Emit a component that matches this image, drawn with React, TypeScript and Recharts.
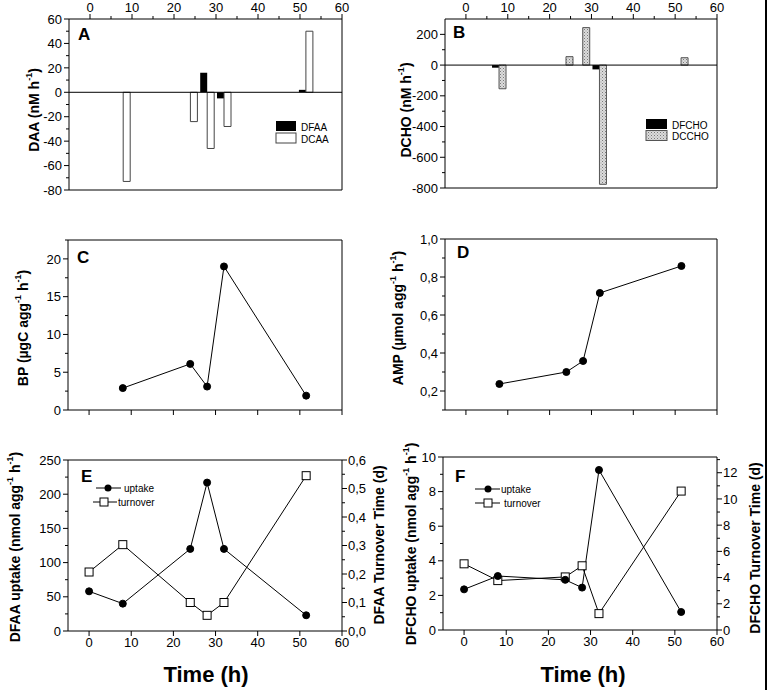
import React from "react";
import { Bar, ComposedChart, Line, ReferenceLine, XAxis, YAxis } from "recharts";

// sampling times (h)
const barTimes = [8, 24, 28, 32, 51.5];
const seriesTimes = [0, 8, 24, 28, 32, 51.5];

// panel A / B: rates (nM h-1)
const dfaaRate = [0, 0, 16, -5, 2];
const dcaaRate = [-73, -24, -46, -28, 50];
const dfchoRate = [-17, 0, 0, -28, 0];
const dcchoRate = [-154, 55, 244, -776, 48];

// panel C / D
const bpValues = [2.9, 6.1, 3.1, 19.0, 1.9];
const ampValues = [0.237, 0.3, 0.358, 0.716, 0.858];

// panel E / F
const dfaaUptake = [58, 40, 120, 217, 120, 23];
const dfaaTurnover = [0.207, 0.303, 0.1, 0.055, 0.1, 0.545];
const dfchoUptake = [2.35, 3.12, 2.9, 2.45, 9.25, 1.04];
const dfchoTurnover = [5.05, 3.77, 4.05, 4.9, 1.25, 10.6];

// ticks
const timeMajor = [0, 10, 20, 30, 40, 50, 60];
const timeWithMinor = [0, 5, 10, 15, 20, 25, 30, 35, 40, 45, 50, 55, 60];
const daaTicks = [-80, -70, -60, -50, -40, -30, -20, -10, 0, 10, 20, 30, 40, 50, 60];
const daaMajor = [-80, -60, -40, -20, 0, 20, 40, 60];
const dchoTicks = [-800, -700, -600, -500, -400, -300, -200, -100, 0, 100, 200];
const dchoMajor = [-800, -600, -400, -200, 0, 200];
const bpTicks = [0, 2.5, 5, 7.5, 10, 12.5, 15, 17.5, 20, 22.5];
const bpMajor = [0, 5, 10, 15, 20];
const ampTicks = [0.1, 0.2, 0.3, 0.4, 0.5, 0.6, 0.7, 0.8, 0.9, 1.0];
const ampMajor = [0.2, 0.4, 0.6, 0.8, 1.0];
const eLeftTicks = [0, 25, 50, 75, 100, 125, 150, 175, 200, 225, 250];
const eLeftMajor = [0, 50, 100, 150, 200, 250];
const eRightTicks = [0, 0.05, 0.1, 0.15, 0.2, 0.25, 0.3, 0.35, 0.4, 0.45, 0.5, 0.55, 0.6];
const eRightMajor = [0, 0.1, 0.2, 0.3, 0.4, 0.5, 0.6];
const fLeftTicks = [0, 1, 2, 3, 4, 5, 6, 7, 8, 9, 10];
const fLeftMajor = [0, 2, 4, 6, 8, 10];
const fRightTicks = [0, 1, 2, 3, 4, 5, 6, 7, 8, 9, 10, 11, 12, 13];
const fRightMajor = [0, 2, 4, 6, 8, 10, 12];

const barRows = barTimes.map((t, i) => ({
  t,
  dfaa: dfaaRate[i],
  dcaa: dcaaRate[i],
  dfcho: dfchoRate[i],
  dccho: dcchoRate[i],
}));
const cdRows = barTimes.map((t, i) => ({ t, bp: bpValues[i], amp: ampValues[i] }));
const efRows = seriesTimes.map((t, i) => ({
  t,
  aUp: dfaaUptake[i],
  aTurn: dfaaTurnover[i],
  cUp: dfchoUptake[i],
  cTurn: dfchoTurnover[i],
}));

const FONT = "'Liberation Sans', Arial, Helvetica, sans-serif";
const PAD = 50;
const comma = (v: number) => v.toFixed(1).replace(".", ",");
const plain = (v: number) => String(v);

type Side = "left" | "right" | "top" | "bottom";

function makeTick(side: Side, majors: number[], fmt: ((v: number) => string) | null) {
  return (props: any) => {
    const { x, y, payload } = props;
    const v = Number(payload.value);
    const major = majors.some((m) => Math.abs(m - v) < 1e-6);
    const len = major ? 5 : 3;
    const label = major && fmt ? fmt(v) : null;
    const tf = { fontFamily: FONT, fontSize: 13, fill: "#000" };
    if (side === "left")
      return (
        <g>
          <line x1={x - len} y1={y} x2={x} y2={y} stroke="#000" />
          {label && <text x={x - 7} y={y} dy="0.36em" textAnchor="end" {...tf}>{label}</text>}
        </g>
      );
    if (side === "right")
      return (
        <g>
          <line x1={x} y1={y} x2={x + len} y2={y} stroke="#000" />
          {label && <text x={x + 6} y={y} dy="0.36em" textAnchor="start" {...tf}>{label}</text>}
        </g>
      );
    if (side === "top")
      return (
        <g>
          <line x1={x} y1={y - len} x2={x} y2={y} stroke="#000" />
          {label && <text x={x} y={y - 7} textAnchor="middle" {...tf}>{label}</text>}
        </g>
      );
    return (
      <g>
        <line x1={x} y1={y} x2={x} y2={y + len} stroke="#000" />
        {label && <text x={x} y={y + 16} textAnchor="middle" {...tf}>{label}</text>}
      </g>
    );
  };
}

type Rect = { x: number; y: number; w: number; h: number };
type AxisSpec = { ticks?: number[]; majors?: number[]; fmt?: ((v: number) => string) | null };

function axisProps(side: Side, spec?: AxisSpec) {
  const base = { stroke: "#000", tickLine: false, tickSize: 0, tickMargin: 0, interval: 0 as const };
  if (!spec || !spec.ticks) return { ...base, tick: false };
  return { ...base, ticks: spec.ticks, tick: makeTick(side, spec.majors || spec.ticks, spec.fmt ?? null) };
}

function Panel({
  rect,
  data,
  yDomain,
  yRightDomain,
  top,
  bottom,
  left,
  right,
  children,
}: {
  rect: Rect;
  data: any[];
  yDomain: [number, number];
  yRightDomain?: [number, number];
  top?: AxisSpec;
  bottom?: AxisSpec;
  left: AxisSpec;
  right: AxisSpec;
  children: React.ReactNode;
}) {
  return (
    <div style={{ position: "absolute", left: rect.x - PAD, top: rect.y - PAD }}>
      <ComposedChart
        width={rect.w + 2 * PAD}
        height={rect.h + 2 * PAD}
        data={data}
        margin={{ top: 0, right: 0, bottom: 0, left: 0 }}
        barGap={0}
      >
        <XAxis xAxisId="t" orientation="top" type="number" dataKey="t" domain={[-5, 60]} height={PAD} {...axisProps("top", top)} />
        <XAxis xAxisId="b" orientation="bottom" type="number" dataKey="t" domain={[-5, 60]} height={PAD} {...axisProps("bottom", bottom)} />
        <YAxis yAxisId="l" orientation="left" type="number" domain={yDomain} width={PAD} {...axisProps("left", left)} />
        <YAxis yAxisId="r" orientation="right" type="number" domain={yRightDomain || yDomain} width={PAD} {...axisProps("right", right)} />
        {children}
      </ComposedChart>
    </div>
  );
}

const Square = (props: any) => {
  const { cx, cy } = props;
  if (cx == null || cy == null) return <g />;
  return <rect x={cx - 4} y={cy - 4} width={8} height={8} fill="#fff" stroke="#000" strokeWidth={1} />;
};

const dotStyle = { r: 3.5, fill: "#000", stroke: "#000", strokeWidth: 1 };

function YTitle({ x, y, parts }: { x: number; y: number; parts: (string | { sup: string })[] }) {
  const nodes: React.ReactNode[] = [];
  parts.forEach((p, i) => {
    if (typeof p === "string") {
      nodes.push(<tspan key={i} dy={i > 0 && typeof parts[i - 1] !== "string" ? 5 : 0}>{p}</tspan>);
    } else {
      nodes.push(<tspan key={i} dy={-5} fontSize={9}>{p.sup}</tspan>);
    }
  });
  return (
    <text
      transform={`translate(${x},${y}) rotate(-90)`}
      textAnchor="middle"
      dominantBaseline="central"
      fontFamily={FONT}
      fontWeight="bold"
      fontSize={14}
      fill="#000"
    >
      {nodes}
    </text>
  );
}

const letterStyle = { fontFamily: FONT, fontWeight: "bold" as const, fontSize: 17, fill: "#000" };
const legendText = { fontFamily: FONT, fontSize: 10, fill: "#000" };

export default function App() {
  return (
    <div style={{ position: "absolute", left: 0, top: 0, width: 768, height: 690, background: "#fff", overflow: "hidden" }}>
      {/* A */}
      <Panel
        rect={{ x: 69, y: 19, w: 273, h: 171 }}
        data={barRows}
        yDomain={[-80, 60]}
        top={{ ticks: timeWithMinor, majors: timeMajor, fmt: plain }}
        left={{ ticks: daaTicks, majors: daaMajor, fmt: plain }}
        right={{ ticks: daaTicks }}
      >
        <ReferenceLine xAxisId="t" yAxisId="l" y={0} stroke="#000" />
        <Bar xAxisId="t" yAxisId="l" dataKey="dfaa" fill="#000" barSize={7} isAnimationActive={false} />
        <Bar xAxisId="t" yAxisId="l" dataKey="dcaa" fill="#fff" stroke="#444" barSize={7} isAnimationActive={false} />
      </Panel>

      {/* B */}
      <Panel
        rect={{ x: 445, y: 19, w: 272, h: 169 }}
        data={barRows}
        yDomain={[-800, 300]}
        top={{ ticks: timeWithMinor, majors: timeMajor, fmt: plain }}
        left={{ ticks: dchoTicks, majors: dchoMajor, fmt: plain }}
        right={{ ticks: dchoTicks }}
      >
        <ReferenceLine xAxisId="t" yAxisId="l" y={0} stroke="#000" />
        <Bar xAxisId="t" yAxisId="l" dataKey="dfcho" fill="#000" barSize={7} isAnimationActive={false} />
        <Bar xAxisId="t" yAxisId="l" dataKey="dccho" fill="url(#dots)" stroke="#555" barSize={7} isAnimationActive={false} />
      </Panel>

      {/* C */}
      <Panel
        rect={{ x: 68, y: 240, w: 274, h: 170 }}
        data={cdRows}
        yDomain={[0, 22.5]}
        bottom={{ ticks: timeMajor, majors: timeMajor, fmt: null }}
        left={{ ticks: bpTicks, majors: bpMajor, fmt: plain }}
        right={{ ticks: bpTicks }}
      >
        <Line xAxisId="b" yAxisId="l" dataKey="bp" stroke="#000" strokeWidth={1} dot={dotStyle} isAnimationActive={false} />
      </Panel>

      {/* D */}
      <Panel
        rect={{ x: 445, y: 239, w: 272, h: 171 }}
        data={cdRows}
        yDomain={[0.1, 1.0]}
        bottom={{ ticks: timeMajor, majors: timeMajor, fmt: null }}
        left={{ ticks: ampTicks, majors: ampMajor, fmt: comma }}
        right={{ ticks: ampTicks }}
      >
        <Line xAxisId="b" yAxisId="l" dataKey="amp" stroke="#000" strokeWidth={1} dot={dotStyle} isAnimationActive={false} />
      </Panel>

      {/* E */}
      <Panel
        rect={{ x: 68, y: 460, w: 274, h: 171 }}
        data={efRows}
        yDomain={[0, 250]}
        yRightDomain={[0, 0.6]}
        bottom={{ ticks: timeMajor, majors: timeMajor, fmt: plain }}
        left={{ ticks: eLeftTicks, majors: eLeftMajor, fmt: plain }}
        right={{ ticks: eRightTicks, majors: eRightMajor, fmt: comma }}
      >
        <Line xAxisId="b" yAxisId="r" dataKey="aTurn" stroke="#000" strokeWidth={1} dot={<Square />} isAnimationActive={false} />
        <Line xAxisId="b" yAxisId="l" dataKey="aUp" stroke="#000" strokeWidth={1} dot={dotStyle} isAnimationActive={false} />
      </Panel>

      {/* F */}
      <Panel
        rect={{ x: 443, y: 457, w: 274, h: 173 }}
        data={efRows}
        yDomain={[0, 10]}
        yRightDomain={[0, 13.2]}
        bottom={{ ticks: timeMajor, majors: timeMajor, fmt: plain }}
        left={{ ticks: fLeftTicks, majors: fLeftMajor, fmt: plain }}
        right={{ ticks: fRightTicks, majors: fRightMajor, fmt: plain }}
      >
        <Line xAxisId="b" yAxisId="r" dataKey="cTurn" stroke="#000" strokeWidth={1} dot={<Square />} isAnimationActive={false} />
        <Line xAxisId="b" yAxisId="l" dataKey="cUp" stroke="#000" strokeWidth={1} dot={dotStyle} isAnimationActive={false} />
      </Panel>

      <svg width={768} height={690} style={{ position: "absolute", left: 0, top: 0, pointerEvents: "none" }}>
        <defs>
          <pattern id="dots" width={3} height={3} patternUnits="userSpaceOnUse">
            <rect width={3} height={3} fill="#dcdcdc" />
            <rect width={1} height={1} fill="#7a7a7a" />
            <rect x={1.5} y={1.5} width={1} height={1} fill="#9a9a9a" />
          </pattern>
        </defs>

        <text x={78} y={40} {...letterStyle}>A</text>
        <text x={453} y={38} {...letterStyle}>B</text>
        <text x={77} y={263} {...letterStyle}>C</text>
        <text x={457} y={258} {...letterStyle}>D</text>
        <text x={81} y={482} {...letterStyle}>E</text>
        <text x={455} y={482} {...letterStyle}>F</text>

        <YTitle x={34} y={110} parts={["DAA (nM h", { sup: "-1" }, ")"]} />
        <YTitle x={406} y={110} parts={["DCHO (nM h", { sup: "-1" }, ")"]} />
        <YTitle x={23} y={328} parts={["BP (µgC agg", { sup: "-1" }, " h", { sup: "-1" }, ")"]} />
        <YTitle x={398} y={318} parts={["AMP (µmol agg", { sup: "-1" }, " h", { sup: "-1" }, ")"]} />
        <YTitle x={15} y={547} parts={["DFAA uptake (nmol agg", { sup: "-1" }, " h", { sup: "-1" }, ")"]} />
        <YTitle x={379} y={545} parts={["DFAA Turnover Time (d)"]} />
        <YTitle x={411} y={544} parts={["DFCHO uptake (nmol agg", { sup: "-1" }, " h", { sup: "-1" }, ")"]} />
        <YTitle x={755} y={548} parts={["DFCHO Turnover Time (d)"]} />

        {/* bar legends */}
        <rect x={276} y={121} width={20} height={10} fill="#000" />
        <rect x={276} y={133} width={20} height={10} fill="#fff" stroke="#444" />
        <text x={301} y={131} {...legendText}>DFAA</text>
        <text x={301} y={143} {...legendText}>DCAA</text>
        <rect x={646} y={119} width={21} height={10} fill="#000" />
        <rect x={646} y={130.5} width={21} height={10} fill="url(#dots)" stroke="#555" />
        <text x={672} y={129} {...legendText}>DFCHO</text>
        <text x={672} y={140} {...legendText}>DCCHO</text>

        {/* line legends */}
        <line x1={96} y1={488} x2={121} y2={488} stroke="#000" />
        <circle cx={108} cy={488} r={3.5} fill="#000" />
        <text x={124} y={492} {...legendText}>uptake</text>
        <line x1={93} y1={502} x2={117} y2={502} stroke="#000" />
        <rect x={100} y={498} width={8} height={8} fill="#fff" stroke="#000" />
        <text x={118} y={506} {...legendText}>turnover</text>

        <line x1={475} y1={489} x2={500} y2={489} stroke="#000" />
        <circle cx={488} cy={489} r={3.5} fill="#000" />
        <text x={501} y={493} {...legendText}>uptake</text>
        <line x1={475} y1={503} x2={500} y2={503} stroke="#000" />
        <rect x={484} y={499} width={8} height={8} fill="#fff" stroke="#000" />
        <text x={504} y={507} {...legendText}>turnover</text>

        <text x={206} y={682} textAnchor="middle" fontFamily={FONT} fontWeight="bold" fontSize={22}>Time (h)</text>
        <text x={583} y={682} textAnchor="middle" fontFamily={FONT} fontWeight="bold" fontSize={22}>Time (h)</text>

        <line x1={766} y1={0} x2={766} y2={690} stroke="#000" strokeWidth={2} />
      </svg>
    </div>
  );
}
